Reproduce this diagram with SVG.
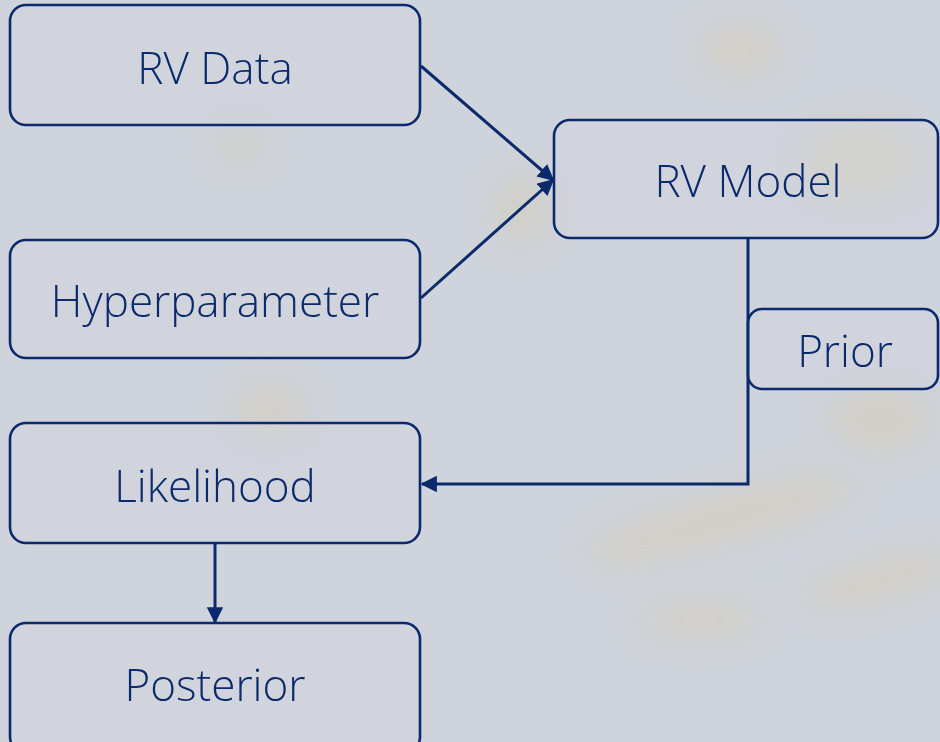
<svg xmlns="http://www.w3.org/2000/svg" width="940" height="742" viewBox="0 0 940 742">
<defs>
<style>
.box{fill:#d3d7df;fill-opacity:0.35;stroke:#0b2a6b;stroke-width:2.6}
.lbl{font-family:"Open Sans","Noto Sans","Liberation Sans",sans-serif;font-weight:300;font-size:44px;fill:#0b2a6b;text-anchor:middle;dominant-baseline:central}
.con{fill:none;stroke:#0b2a6b;stroke-width:3}
</style>
<marker id="ah" viewBox="0 0 10 10" refX="9" refY="5" markerWidth="5.5" markerHeight="5.5" orient="auto" markerUnits="strokeWidth">
<path d="M0,0 L10,5 L0,10 z" fill="#0b2a6b"/>
</marker>
<filter id="blur" x="-50%" y="-50%" width="200%" height="200%"><feGaussianBlur stdDeviation="16"/></filter>
</defs>
<rect width="940" height="742" fill="#cfd3db"/>
<g filter="url(#blur)" fill="#d8c9a0" opacity="0.35">
<ellipse cx="240" cy="145" rx="25" ry="15"/>
<ellipse cx="520" cy="210" rx="25" ry="35"/>
<ellipse cx="270" cy="410" rx="35" ry="25"/>
<ellipse cx="720" cy="520" rx="140" ry="25" transform="rotate(-15 720 520)"/>
<ellipse cx="880" cy="580" rx="80" ry="20" transform="rotate(-15 880 580)"/>
<ellipse cx="700" cy="620" rx="60" ry="18"/>
<ellipse cx="860" cy="160" rx="60" ry="40"/>
<ellipse cx="880" cy="420" rx="50" ry="30"/>
<ellipse cx="740" cy="50" rx="40" ry="25"/>
</g>
<g id="connectors">
<line class="con" x1="421" y1="66" x2="553" y2="180" marker-end="url(#ah)"/>
<line class="con" x1="421" y1="298" x2="553" y2="180" marker-end="url(#ah)"/>
<polyline class="con" points="748,238 748,484 422,484" marker-end="url(#ah)"/>
<line class="con" x1="215" y1="543" x2="215" y2="622" marker-end="url(#ah)"/>
</g>
<g id="rv-data"><rect class="box" x="10" y="5" width="410" height="120" rx="16"/><text class="lbl" x="215" y="67">RV Data</text></g>
<g id="hyperparameter"><rect class="box" x="10" y="240" width="410" height="118" rx="16"/><text class="lbl" x="215" y="300">Hyperparameter</text></g>
<g id="rv-model"><rect class="box" x="554" y="120" width="384" height="118" rx="16"/><text class="lbl" x="748" y="180">RV Model</text></g>
<g id="prior"><rect class="box" x="748" y="309" width="190" height="80" rx="14"/><text class="lbl" x="845" y="350">Prior</text></g>
<g id="likelihood"><rect class="box" x="10" y="423" width="410" height="120" rx="16"/><text class="lbl" x="215" y="485">Likelihood</text></g>
<g id="posterior"><rect class="box" x="10" y="623" width="410" height="130" rx="16"/><text class="lbl" x="215" y="684">Posterior</text></g>
</svg>
